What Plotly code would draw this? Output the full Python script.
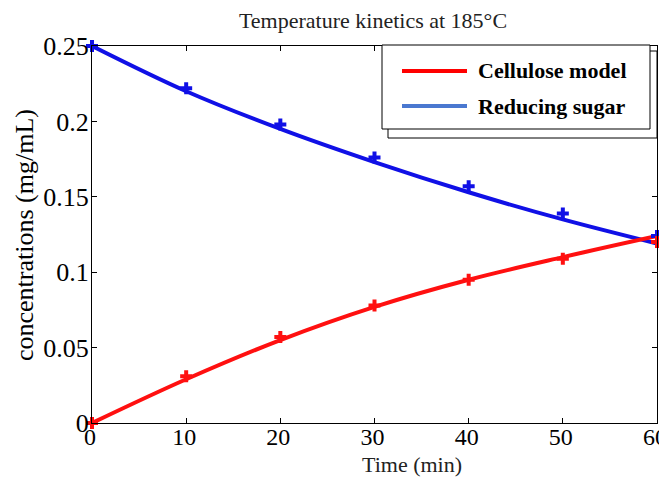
import plotly.graph_objects as go

# Measured data
time_pts = [0, 10, 20, 30, 40, 50, 60]
sugar_pts = [0.250, 0.222, 0.198, 0.176, 0.157, 0.139, 0.124]
cellulose_pts = [0.000, 0.031, 0.057, 0.078, 0.095, 0.109, 0.120]

# Model curves
model_time = [0, 10, 20, 30, 40, 50, 60]
sugar_model = [0.250, 0.220, 0.195, 0.173, 0.153, 0.135, 0.119]
cellulose_model = [0.000, 0.029, 0.055, 0.077, 0.095, 0.110, 0.124]

# Tick labels
x_tickvals = [0, 10, 20, 30, 40, 50, 60]
x_ticktext = ["0", "10", "20", "30", "40", "50", "60"]
y_tickvals = [0, 0.05, 0.1, 0.15, 0.2, 0.25]
y_ticktext = ["0", "0.05", "0.1", "0.15", "0.2", "0.25"]

legend_names = ["Cellulose model", "Reducing sugar"]
legend_colors = ["#ff0000", "#4a78d0"]

RED = "#ff1010"
BLUE = "#1010e6"
SERIF = "Liberation Serif, Times New Roman, serif"

# The page body adds an 8px offset; layout positions are given in screen pixels
OFF = 8
W, H = 667, 477
PL, PR, PT, PB = 92, 657, 46, 423          # plot area in screen pixels
L, T = PL - OFF, PT - OFF
R, B = W - (PR - OFF), H - (PB - OFF)
PW, PH = PR - PL, PB - PT
def px(x):
    return (x - PL) / PW
def py(y):
    return (PB - y) / PH

fig = go.Figure()
fig.add_trace(go.Scatter(x=model_time, y=sugar_model, mode="lines", name="Reducing sugar model",
                         line=dict(color=BLUE, width=4, shape="spline"), showlegend=False))
fig.add_trace(go.Scatter(x=model_time, y=cellulose_model, mode="lines", name="Cellulose model",
                         line=dict(color=RED, width=4, shape="spline"), showlegend=False))
fig.add_trace(go.Scatter(x=time_pts, y=sugar_pts, mode="markers", cliponaxis=False,
                         marker=dict(color=BLUE, symbol="cross", size=10), showlegend=False))
fig.add_trace(go.Scatter(x=time_pts, y=cellulose_pts, mode="markers", cliponaxis=False,
                         marker=dict(color=RED, symbol="cross", size=10), showlegend=False))

# Legend drawn with shapes/annotations (shadowed box as in the reference)
shapes = [
    dict(type="rect", xref="paper", yref="paper", x0=px(388), x1=px(657),
         y0=py(138), y1=py(51), line=dict(color="black", width=1), fillcolor="white", layer="above"),
    dict(type="rect", xref="paper", yref="paper", x0=px(382), x1=px(650),
         y0=py(129), y1=py(45), line=dict(color="black", width=1), fillcolor="white", layer="above"),
]
annotations = []
for i, (n, c) in enumerate(zip(legend_names, legend_colors)):
    yy = [71, 106][i]
    shapes.append(dict(type="line", xref="paper", yref="paper", x0=px(402), x1=px(467),
                       y0=py(yy), y1=py(yy), line=dict(color=c, width=4), layer="above"))
    annotations.append(dict(text=f"<b>{n}</b>", xref="paper", yref="paper", x=px(476), y=py(yy),
                            xanchor="left", yanchor="middle", showarrow=False,
                            font=dict(family=SERIF, size=22, color="black")))

annotations += [
    dict(text="Time (min)", xref="paper", yref="paper", x=px(412), y=py(464),
         xanchor="center", yanchor="middle", showarrow=False,
         font=dict(family=SERIF, size=22, color="#222")),
    dict(text="concentrations (mg/mL)", xref="paper", yref="paper", x=px(24), y=py(235),
         xanchor="center", yanchor="middle", showarrow=False, textangle=-90,
         font=dict(family=SERIF, size=26, color="black")),
]

fig.update_layout(
    width=W, height=H,
    margin=dict(l=L, r=R, t=T, b=B),
    paper_bgcolor="white", plot_bgcolor="white",
    title=dict(text="Temperature kinetics at 185°C", x=(373 - OFF) / W, xanchor="center",
               y=1 - (20 - OFF) / H, yanchor="middle", font=dict(family=SERIF, size=22, color="#222")),
    font=dict(family=SERIF, color="black"),
    showlegend=False,
    shapes=shapes,
    annotations=annotations,
)
fig.update_xaxes(range=[0, 60], tickvals=x_tickvals, ticktext=x_ticktext,
                 ticks="inside", ticklen=5, tickcolor="black",
                 showline=True, linecolor="black", linewidth=1, mirror="ticks",
                 showgrid=False, zeroline=False, automargin=False,
                 ticklabelstandoff=-8, ticklabelshift=-2,
                 tickfont=dict(family=SERIF, size=24))
fig.update_yaxes(range=[0, 0.25], tickvals=y_tickvals, ticktext=y_ticktext,
                 ticks="inside", ticklen=5, tickcolor="black",
                 showline=True, linecolor="black", linewidth=1, mirror="ticks",
                 showgrid=False, zeroline=False, automargin=False,
                 ticklabelstandoff=-3,
                 tickfont=dict(family=SERIF, size=26))
fig.write_html("out.html")
